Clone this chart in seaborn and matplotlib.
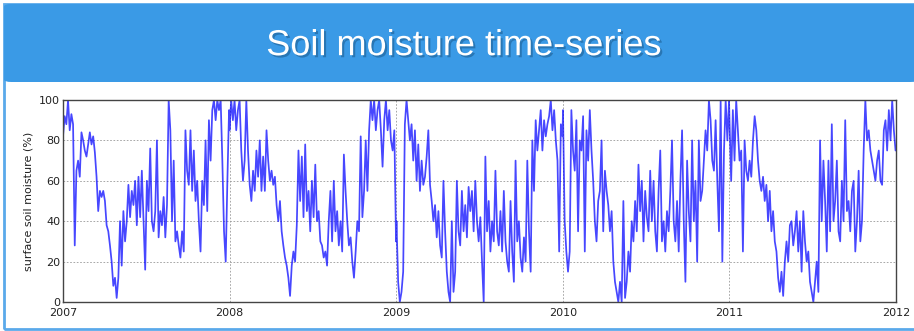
import numpy as np
import pandas as pd
import matplotlib
matplotlib.use("Agg")
import matplotlib.pyplot as plt
import matplotlib.dates as mdates
import matplotlib.patheffects as pe
from matplotlib.patches import FancyBboxPatch, Rectangle
import seaborn as sns

# surface soil moisture (%), roughly 100 readings per year
sm_2007 = [82, 92, 88, 100, 85, 93, 88, 28, 65, 70, 62, 84, 80, 75, 72, 78, 84, 78, 82,
           74, 62, 45, 55, 52, 55, 50, 38, 35, 28, 20, 8, 12, 2, 12, 40, 18, 45,
           30, 40, 58, 42, 55, 48, 60, 38, 62, 42, 65, 40, 16, 60, 45, 76, 40, 35, 45, 80, 32, 45,
           38, 52, 32, 48, 100, 85, 40, 70, 30, 35, 28, 22, 35, 25,
           85, 65, 58, 85, 55, 75, 50, 60, 40, 25, 60, 48, 80, 45, 90, 70, 95, 100, 90, 100,
           95, 100, 70, 35, 20, 60, 95]
sm_2008 = [85, 100, 90, 100, 85, 95, 100, 75, 60, 70, 100, 75, 58, 50, 65, 55, 75, 62, 80, 55, 72,
           55, 85, 70, 60, 65, 58, 62, 48, 40, 50, 35, 28, 22, 18, 12, 3, 18, 25, 20, 38,
           75, 50, 72, 42, 78, 45, 55, 35, 60, 42, 68, 40, 45, 30, 28, 22, 25, 18,
           40, 55, 30, 60, 35, 45, 28, 40, 25, 73, 55, 40, 28, 32, 20, 12, 25, 40, 35, 82,
           42, 55, 80, 55, 85, 100, 90, 100, 85, 95, 100, 85, 67, 90, 100, 85, 95, 80, 75, 85, 30]
sm_2009 = [40, 10, 0, 5, 15, 88, 100, 90, 80, 88, 70, 85, 60, 78, 55, 70, 58, 62, 72, 85, 58,
           50, 40, 48, 32, 45, 28, 22, 60, 35, 15, 5, 0, 40, 5, 15, 60, 35, 28, 55, 35,
           48, 32, 57, 45, 55, 35, 60, 40, 30, 42, 20, 0, 72, 35, 50, 25, 40, 30, 65, 35,
           28, 45, 25, 55, 30, 20, 15, 50, 25, 10, 70, 30, 40, 22, 15, 32, 20, 70, 35, 15,
           80, 55, 90, 75, 85, 95, 75, 90, 82, 88, 92, 100, 85, 95, 80, 70, 25, 88, 82]
sm_2010 = [95, 40, 25, 15, 25, 95, 75, 65, 90, 35, 80, 75, 92, 25, 85,
           70, 95, 75, 60, 40, 30, 50, 55, 80, 35, 65, 55, 48, 35, 45, 20, 10, 5, 0, 10,
           0, 50, 2, 10, 25, 15, 40, 30, 50, 35, 68, 45, 60, 30, 55, 42, 35, 65, 40, 60,
           35, 25, 55, 75, 30, 40, 25, 45, 35, 55, 80, 40, 30, 50, 25, 60, 85, 40, 10, 70,
           45, 30, 80, 40, 60, 20, 80, 50, 55, 70, 85, 75, 100, 90, 70, 65, 90, 60, 35, 100,
           20, 75, 100, 80, 100]
sm_2011 = [90, 60, 95, 70, 100, 85, 70, 75, 25, 80, 65, 60, 70, 62, 80, 92, 85, 70, 60,
           55, 62, 50, 58, 40, 55, 35, 45, 30, 25, 12, 5, 15, 3, 20, 30, 20, 38, 40, 28,
           35, 45, 25, 40, 15, 45, 30, 20, 25, 10, 5, 0, 10, 20, 5, 80, 40, 70, 50, 25,
           70, 35, 88, 40, 50, 70, 35, 30, 60, 40, 90, 45, 50, 35, 55, 60, 25, 40, 65, 30,
           40, 75, 100, 80, 85, 75, 70, 65, 60, 70, 75, 60, 58, 85, 90, 75, 95, 80, 100, 85, 75]

years = [2007, 2008, 2009, 2010, 2011]
series = [sm_2007, sm_2008, sm_2009, sm_2010, sm_2011]

frames = []
for yr, vals in zip(years, series):
    start = pd.Timestamp(f"{yr}-01-01")
    end = pd.Timestamp(f"{yr}-12-31")
    dates = pd.date_range(start, end, periods=len(vals))
    frames.append(pd.DataFrame({"date": dates, "sm": vals}))
df = pd.concat(frames, ignore_index=True)

sns.set_style("white")
plt.rcParams["font.family"] = ["DejaVu Sans"]

fig = plt.figure(figsize=(9.14, 3.31), dpi=100)

# slide card and blue header
fig.patches.append(Rectangle((4 / 914, 2 / 331), 1.0, 325 / 331, transform=fig.transFigure,
                             fill=False, edgecolor="#5aa9ea", lw=2.0, zorder=0))
fig.patches.append(FancyBboxPatch((4 / 914, 249 / 331), 1.0, 78 / 331, transform=fig.transFigure,
                                  boxstyle="round,pad=0,rounding_size=0.008",
                                  facecolor="#3a9ae6", edgecolor="none", zorder=1))
fig.text(0.507, 0.862, "Soil moisture time-series", ha="center", va="center",
         color="white", fontsize=26, family=["Liberation Sans", "DejaVu Sans"],
         path_effects=[pe.withSimplePatchShadow(offset=(1.5, -1.5), shadow_rgbFace="#1d5f94", alpha=0.6)])

ax = fig.add_axes([63 / 914, 29 / 331, 833 / 914, 202 / 331])
sns.lineplot(data=df, x="date", y="sm", ax=ax, color="blue", alpha=0.72, lw=1.25)

ax.set_xlim(pd.Timestamp("2007-01-01"), pd.Timestamp("2012-01-01"))
ax.set_ylim(0, 100)
ax.set_yticks([0, 20, 40, 60, 80, 100])
ax.xaxis.set_major_locator(mdates.YearLocator())
ax.xaxis.set_major_formatter(mdates.DateFormatter("%Y"))
ax.set_xlabel("")
ax.set_ylabel("surface soil moisture (%)", fontsize=8, color="#222222")
ax.grid(True, color="#999999", linestyle=(0, (2, 2)), lw=0.6)
ax.tick_params(labelsize=8, direction="in", length=3, colors="#222222", pad=2)
ax.tick_params(axis="x", pad=4)
for s in ax.spines.values():
    s.set_color("#444444")
    s.set_linewidth(1.0)

fig.savefig("out.png", dpi=100)
